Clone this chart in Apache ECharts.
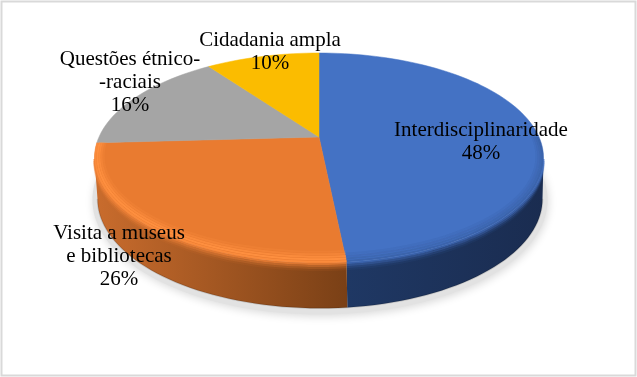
<!DOCTYPE html>
<html><head><meta charset="utf-8">
<style>html,body{margin:0;padding:0;background:#fff}#c{width:637px;height:377px}</style>
<script src="https://cdn.jsdelivr.net/npm/echarts@6/dist/echarts.min.js"></script>
</head><body><div id="c"></div>
<script>
const categories = ['Interdisciplinaridade', 'Visita a museus\ne bibliotecas', 'Questões étnico-\n-raciais', 'Cidadania ampla'];
const values = [48.4, 25.7, 16, 9.9];

// layout, kept apart from the data
const labelAt = [[481, 141.5], [119, 256], [130, 82.5], [270, 51.5]];
const topColors = ['#4472C4', '#E97B30', '#A5A5A5', '#FBBC00'];
const sideStops = [['#1A2C50', '#1F3864'], ['#C96C2D', '#7A4016']];
const bevel = [
  {inner: [[-7, 'rgba(26,44,80,0.05)'], [-5, 'rgba(26,44,80,0.1)'], [-3, 'rgba(26,44,80,0.15)'], [-1, 'rgba(26,44,80,0.2)']],
   outer: [[1, 'rgba(68,114,196,0.7)'], [3, 'rgba(68,114,196,0.45)'], [5, 'rgba(68,114,196,0.22)'], [7, 'rgba(68,114,196,0.08)']]},
  {inner: [[-9, 'rgba(255,144,64,0.2)'], [-7, 'rgba(255,144,64,0.45)'], [-5, 'rgba(255,144,64,0.75)'], [-3, 'rgba(255,144,64,0.95)'], [-1, 'rgba(255,144,64,0.75)']],
   outer: [[1, 'rgba(240,130,55,0.8)'], [3, 'rgba(240,130,55,0.5)'], [5, 'rgba(240,130,55,0.25)'], [7, 'rgba(240,130,55,0.08)']]}
];
const K = 0.2;
const TOP = {x: 319, y: 137, a: 220, b: 100.8};
const BOT = {x: 320, y: 177, a: 218, b: 105};
const RAD = Math.PI / 180;
const total = values.reduce((s, v) => s + v, 0);

function pt(e, deg, grow, dy) {
  const u = Math.sin(deg * RAD), v = -Math.cos(deg * RAD), s = 1 / (1 - K * v), g = grow || 0;
  return [e.x + (e.a + g) * u * s, e.y + (dy || 0) + (e.b + g) * v * s];
}
function arc(e, a0, a1, grow, dy) {
  const n = Math.max(2, Math.ceil(Math.abs(a1 - a0) / 2)), out = [];
  for (let i = 0; i <= n; i++) out.push(pt(e, a0 + (a1 - a0) * i / n, grow, dy));
  return out;
}
const SIL = Math.acos(K) / RAD; // silhouette: angle from the front
function renderItem(params, api) {
  const i = params.dataIndex;
  let start = 0;
  for (let j = 0; j < i; j++) start += values[j];
  const a0 = start / total * 360, a1 = (start + api.value(0)) / total * 360;
  const kids = [];
  if (i === 0) {
    kids.push({type: 'polygon', z2: 1, silent: true, shape: {points: arc(BOT, 0, 360, 5)},
      style: {fill: '#E2E2E2', shadowBlur: 8, shadowColor: '#DADADA', shadowOffsetX: 1, shadowOffsetY: 2}});
  }
  const f0 = Math.max(a0, 180 - SIL), f1 = Math.min(a1, 180 + SIL);
  if (f1 > f0) {
    const topArc = arc(TOP, f0, f1), botArc = arc(BOT, f0, f1);
    const st = sideStops[i];
    kids.push({type: 'polygon', z2: 2, silent: true, shape: {points: topArc.concat(botArc.slice().reverse())},
      style: {fill: i === 0
        ? new echarts.graphic.LinearGradient(346, 0, 545, 0, [{offset: 0, color: st[1]}, {offset: 1, color: st[0]}], true)
        : new echarts.graphic.LinearGradient(95, 0, 346, 0, [{offset: 0, color: st[0]}, {offset: 1, color: st[1]}], true)}});
    kids.push({type: 'polyline', z2: 2, silent: true, shape: {points: botArc},
      style: {fill: 'none', stroke: 'rgba(0,0,0,0.14)', lineWidth: 1.5}});
  }
  const face = [[TOP.x, TOP.y]].concat(arc(TOP, a0, a1));
  kids.push({type: 'polygon', z2: 3, silent: true, shape: {points: face}, style: {fill: topColors[i], stroke: topColors[i], lineWidth: 0.5}});
  // bevel: soft bands either side of the front rim
  if (bevel[i]) {
    const r0 = Math.max(a0, 90), r1 = Math.min(a1, 270);
    bevel[i].inner.forEach(function (b, n) {
      kids.push({type: 'polyline', z2: 4, silent: true, shape: {points: arc(TOP, r0, r1, b[0])},
        style: {fill: 'none', stroke: b[1], lineWidth: 2}});
    });
    if (f1 > f0) bevel[i].outer.forEach(function (b, n) {
      kids.push({type: 'polyline', z2: 2.5, silent: true, shape: {points: arc(TOP, f0, f1, 0, b[0])},
        style: {fill: 'none', stroke: b[1], lineWidth: 2}});
    });
  }
  kids.push({type: 'text', z2: 9, silent: true, style: {
    x: labelAt[i][0], y: labelAt[i][1], text: categories[i] + '\n' + Math.round(api.value(0)) + '%',
    fontFamily: '"Liberation Serif"', fontSize: 21, lineHeight: 23, fill: '#000', align: 'center', verticalAlign: 'middle'}});
  return {type: 'group', children: kids};
}
const chart = echarts.init(document.getElementById('c'), null, {renderer: 'canvas'});
chart.setOption({
  animation: false,
  backgroundColor: '#fff',
  graphic: [{type: 'rect', silent: true, shape: {x: 1.5, y: 1.5, width: 634, height: 374}, style: {fill: 'none', stroke: '#D9D9D9', lineWidth: 2}}],
  series: [{type: 'custom', coordinateSystem: 'none', renderItem, data: values.map((v, i) => ({name: categories[i], value: [v]}))}]
});
</script></body></html>
